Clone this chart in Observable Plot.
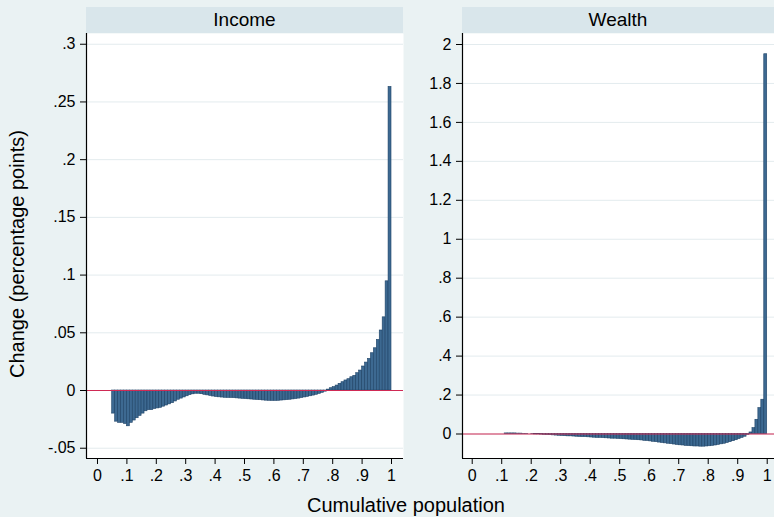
<!DOCTYPE html>
<html>
<head>
<meta charset="utf-8">
<script src="https://cdn.jsdelivr.net/npm/d3@7"></script>
<script src="https://cdn.jsdelivr.net/npm/@observablehq/plot@0.6"></script>
<style>
  html, body { margin: 0; padding: 0; background: #eaf2f3; }
  #fig { position: relative; width: 774px; height: 517px; background: #eaf2f3; overflow: hidden;
         font-family: "Liberation Sans", Arial, Helvetica, sans-serif; color: #000; }
  .strip { position: absolute; background: #d9e6eb; font-size: 19px; text-align: center; line-height: 26px; }
  .pane { position: absolute; }
  .title { position: absolute; font-size: 20px; white-space: nowrap; }
</style>
</head>
<body>
<div id="fig"></div>
<script>
// ---- Data ----
const panels = ["Income", "Wealth"];
// percentile bins 1..100 (bar k spans (k-1)/100 .. k/100)
const percentiles = d3.range(1, 101);

const incomeChange = [
  0, 0, 0, 0, 0,
  -0.020, -0.027, -0.028, -0.028, -0.029,
  -0.031, -0.028, -0.026, -0.024, -0.022,
  -0.020, -0.018, -0.017, -0.017, -0.016,
  -0.0155, -0.015, -0.014, -0.013, -0.012,
  -0.011, -0.0095, -0.008, -0.007, -0.006,
  -0.005, -0.004, -0.0033, -0.0028, -0.0028,
  -0.0032, -0.0037, -0.0042, -0.0047, -0.0052,
  -0.0056, -0.0059, -0.0061, -0.0063, -0.0064,
  -0.0065, -0.0066, -0.0068, -0.0070, -0.0072,
  -0.0074, -0.0076, -0.0078, -0.0080, -0.0082,
  -0.0084, -0.0086, -0.0088, -0.0089, -0.0090,
  -0.0090, -0.0089, -0.0087, -0.0085, -0.0083,
  -0.0080, -0.0077, -0.0074, -0.0070, -0.0065,
  -0.0060, -0.0055, -0.0050, -0.0044, -0.0037,
  -0.0029, -0.0020, -0.0010, 0.0008, 0.0020,
  0.0029, 0.0043, 0.0058, 0.0072, 0.0087,
  0.0098, 0.0115, 0.0127, 0.0150, 0.0173,
  0.0208, 0.0242, 0.0274, 0.0323, 0.0366,
  0.0438, 0.0520, 0.0634, 0.0946, 0.263
];

const wealthChange = [
  0, 0, 0, 0, 0, 0, 0, 0, 0, 0,
  0, 0.003, 0.003, 0.003, 0.003, 0.002, 0.002, 0.001, 0.001, 0.0,
  -0.001, -0.002, -0.002, -0.003, -0.004, -0.005, -0.006, -0.007, -0.008, -0.009,
  -0.010, -0.011, -0.012, -0.012, -0.013, -0.014, -0.015, -0.016, -0.016, -0.017,
  -0.018, -0.019, -0.020, -0.020, -0.021, -0.022, -0.023, -0.024, -0.024, -0.025,
  -0.026, -0.027, -0.028, -0.029, -0.030, -0.031, -0.032, -0.033, -0.035, -0.036,
  -0.038, -0.040, -0.042, -0.044, -0.046, -0.048, -0.050, -0.052, -0.054, -0.056,
  -0.058, -0.059, -0.061, -0.062, -0.063, -0.064, -0.064, -0.065, -0.065, -0.064,
  -0.063, -0.061, -0.059, -0.056, -0.053, -0.050, -0.046, -0.042, -0.037, -0.032,
  -0.026, -0.020, -0.014, -0.004, 0.008, 0.030, 0.073, 0.133, 0.176, 1.95
];

const xTicks = [0, 0.1, 0.2, 0.3, 0.4, 0.5, 0.6, 0.7, 0.8, 0.9, 1];
const incomeYTicks = [-0.05, 0, 0.05, 0.1, 0.15, 0.2, 0.25, 0.3];
const wealthYTicks = [0, 0.2, 0.4, 0.6, 0.8, 1, 1.2, 1.4, 1.6, 1.8, 2];

const yLabel = "Change (percentage points)";
const xLabel = "Cumulative population";

// ---- Helpers ----
const stataFmt = d => String(+(+d).toFixed(4)).replace(/^(-?)0\./, "$1.");
const FONT = '"Liberation Sans", Arial, Helvetica, sans-serif';

function panelPlot({values, yTicks, xDomain, yDomain, width, height, marginLeft, marginRight, marginBottom}) {
  const rows = percentiles.map((k, i) => ({x1: (k - 1) / 100, x2: k / 100, v: values[i]}))
                          .filter(d => d.v !== 0);
  return Plot.plot({
    width, height,
    marginLeft, marginRight, marginTop: 0, marginBottom,
    style: {background: "transparent", fontFamily: FONT, fontSize: "16px", color: "#000", overflow: "visible"},
    x: {domain: xDomain, axis: null},
    y: {domain: yDomain, axis: null},
    marks: [
      Plot.frame({fill: "white", stroke: "none"}),
      Plot.gridY(yTicks, {stroke: "#e3ebee", strokeOpacity: 1, strokeWidth: 1}),
      Plot.rectY(rows, {x1: "x1", x2: "x2", y: "v", fill: "#3d6991", stroke: "#1d4266", strokeWidth: 0.6, inset: 0}),
      Plot.ruleY([0], {stroke: "#cf2a55", strokeWidth: 1.2}),
      Plot.ruleX([xDomain[0]], {stroke: "#000", strokeWidth: 1.2}),
      Plot.ruleY([yDomain[0]], {stroke: "#000", strokeWidth: 1.2}),
      Plot.axisY(yTicks, {anchor: "left", tickSize: 6, tickPadding: 5, tickFormat: stataFmt, fontSize: 16, label: null, stroke: "#000"}),
      Plot.axisX(xTicks, {anchor: "bottom", tickSize: 6, tickPadding: 5, tickFormat: stataFmt, fontSize: 16, label: null, stroke: "#000"})
    ]
  });
}

// ---- Layout ----
const fig = document.getElementById("fig");

function addDiv(cls, text, style) {
  const d = document.createElement("div");
  d.className = cls;
  if (text) d.textContent = text;
  Object.assign(d.style, style);
  fig.appendChild(d);
  return d;
}

// strips
addDiv("strip", panels[0], {left: "86px", top: "7px", width: "317px", height: "26px"});
addDiv("strip", panels[1], {left: "462px", top: "7px", width: "312px", height: "26px"});

// Income panel: plot area x 86..403, y 33..458
const p1 = panelPlot({
  values: incomeChange, yTicks: incomeYTicks,
  xDomain: [-0.0374, 1.0408], yDomain: [-0.0589, 0.3093],
  width: 410, height: 465, marginLeft: 86, marginRight: 7, marginBottom: 40
});
const w1 = addDiv("pane", null, {left: "0px", top: "33px"});
w1.appendChild(p1);

// Wealth panel: plot area x 462..774, y 33..458
const p2 = panelPlot({
  values: wealthChange, yTicks: wealthYTicks,
  xDomain: [-0.0329, 1.0247], yDomain: [-0.1258, 2.0565],
  width: 394, height: 465, marginLeft: 82, marginRight: 0, marginBottom: 40
});
const w2 = addDiv("pane", null, {left: "380px", top: "33px"});
w2.appendChild(p2);

// axis titles
addDiv("title", xLabel, {left: "406px", top: "494px", transform: "translateX(-50%)"});
addDiv("title", yLabel, {left: "17px", top: "254px", transform: "translate(-50%, -50%) rotate(-90deg)"});
</script>
</body>
</html>
